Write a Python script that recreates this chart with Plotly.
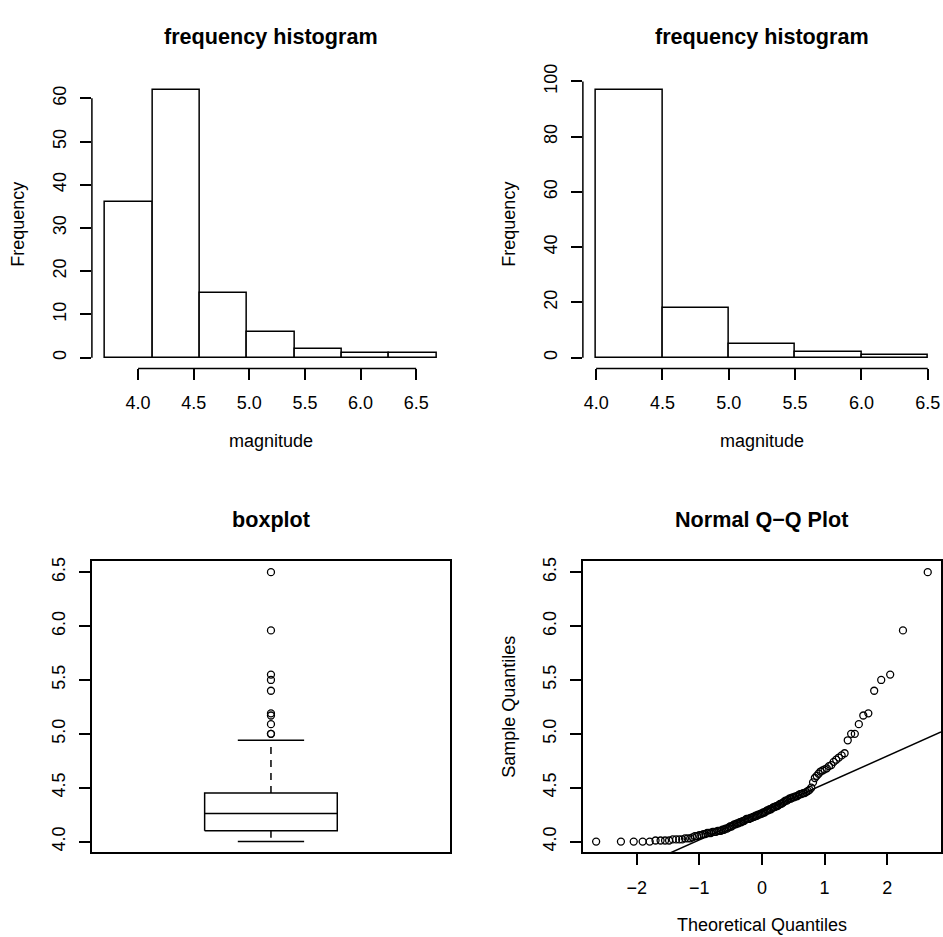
import plotly.graph_objects as go
import numpy as np
from statistics import NormalDist

# ---------------- data ----------------
magnitude = [
    4.00, 4.00, 4.00, 4.00, 4.00, 4.01, 4.01, 4.01, 4.01, 4.02,
    4.02, 4.02, 4.02, 4.03, 4.03, 4.03, 4.04, 4.05, 4.05, 4.06,
    4.06, 4.07, 4.07, 4.08, 4.08, 4.08, 4.09, 4.09, 4.09, 4.10,
    4.10, 4.10, 4.11, 4.11, 4.12, 4.12, 4.13, 4.14, 4.14, 4.15,
    4.16, 4.16, 4.17, 4.17, 4.18, 4.18, 4.19, 4.19, 4.20, 4.21,
    4.21, 4.21, 4.22, 4.22, 4.23, 4.23, 4.24, 4.24, 4.25, 4.25,
    4.26, 4.26, 4.27, 4.27, 4.28, 4.29, 4.29, 4.30, 4.30, 4.31,
    4.32, 4.32, 4.33, 4.33, 4.34, 4.35, 4.35, 4.36, 4.37, 4.38,
    4.38, 4.39, 4.40, 4.40, 4.41, 4.41, 4.42, 4.42, 4.43, 4.44,
    4.44, 4.45, 4.45, 4.46, 4.47, 4.48, 4.50, 4.55, 4.59, 4.61,
    4.63, 4.65, 4.66, 4.67, 4.68, 4.70, 4.71, 4.74, 4.76, 4.78,
    4.80, 4.82, 4.94, 5.00, 5.00, 5.09, 5.17, 5.19, 5.40, 5.50,
    5.55, 5.96, 6.50,
]

hist1_edges = [3.704, 4.130, 4.556, 4.982, 5.408, 5.834, 6.259, 6.685]
hist1_counts = [36, 62, 15, 6, 2, 1, 1]
hist1_xticks = [4.0, 4.5, 5.0, 5.5, 6.0, 6.5]
hist1_yticks = [0, 10, 20, 30, 40, 50, 60]

hist2_edges = [4.0, 4.5, 5.0, 5.5, 6.0, 6.5]
hist2_counts = [97, 18, 5, 2, 1]
hist2_xticks = [4.0, 4.5, 5.0, 5.5, 6.0, 6.5]
hist2_yticks = [0, 20, 40, 60, 80, 100]

box_yticks = [4.0, 4.5, 5.0, 5.5, 6.0, 6.5]
qq_xticks = [-2, -1, 0, 1, 2]
qq_xticklabels = ["\u22122", "\u22121", "0", "1", "2"]
qq_yticks = [4.0, 4.5, 5.0, 5.5, 6.0, 6.5]

titles = ["frequency histogram", "frequency histogram", "boxplot", "Normal Q\u2212Q Plot"]

# ---------------- layout constants ----------------
W, H = 943, 937
FONT = "Liberation Sans, Arial, Helvetica, sans-serif"
FS = 18
LW = 1.5
STANDOFF = 7
col_px = [(92, 450.5), (583.5, 942)]
row_px = [(65, 359.2), (555.3, 851)]


def xdom(c):
    return [col_px[c][0] / W, col_px[c][1] / W]


def ydom(r):
    return [1 - row_px[r][1] / H, 1 - row_px[r][0] / H]


def ext(lo, hi):
    d = (hi - lo) * 0.04
    return [lo - d, hi + d]


def fmt(v):
    return f"{v:.1f}"


mag = np.array(sorted(magnitude))
n = len(mag)

fig = go.Figure()

# ---------------- histograms ----------------
for k, (edges, counts) in enumerate([(hist1_edges, hist1_counts), (hist2_edges, hist2_counts)]):
    e = np.array(edges)
    centers = (e[:-1] + e[1:]) / 2
    widths = e[1:] - e[:-1]
    ax = "" if k == 0 else str(k + 1)
    fig.add_trace(go.Bar(
        x=centers, y=counts, width=widths,
        marker=dict(color="white", line=dict(color="black", width=LW)),
        xaxis="x" + ax, yaxis="y" + ax, showlegend=False, hoverinfo="skip",
    ))

# ---------------- boxplot (Tukey hinges like R) ----------------
n4 = np.floor((n + 3) / 2) / 2
d = np.array([1, n4, (n + 1) / 2, n + 1 - n4, n])
five = 0.5 * (mag[np.floor(d).astype(int) - 1] + mag[np.ceil(d).astype(int) - 1])
q1, med, q3 = five[1], five[2], five[3]
iqr = q3 - q1
up_w = mag[mag <= q3 + 1.5 * iqr].max()
lo_w = mag[mag >= q1 - 1.5 * iqr].min()
outliers = mag[(mag > up_w) | (mag < lo_w)]

bl = dict(color="black", width=LW)
fig.add_trace(go.Scatter(x=[0.8, 1.2, 1.2, 0.8, 0.8], y=[q1, q1, q3, q3, q1], mode="lines",
                         line=bl, xaxis="x3", yaxis="y3", showlegend=False, hoverinfo="skip"))
fig.add_trace(go.Scatter(x=[0.8, 1.2], y=[med, med], mode="lines",
                         line=bl, xaxis="x3", yaxis="y3",
                         showlegend=False, hoverinfo="skip"))
for a, b in [(q3, up_w), (q1, lo_w)]:
    fig.add_trace(go.Scatter(x=[1, 1], y=[a, b], mode="lines",
                             line=dict(color="black", width=LW, dash="7px,6px"),
                             xaxis="x3", yaxis="y3", showlegend=False, hoverinfo="skip"))
    fig.add_trace(go.Scatter(x=[0.9, 1.1], y=[b, b], mode="lines", line=bl,
                             xaxis="x3", yaxis="y3", showlegend=False, hoverinfo="skip"))
fig.add_trace(go.Scatter(x=[1] * len(outliers), y=outliers, mode="markers",
                         marker=dict(symbol="circle-open", size=7, color="black", line=dict(width=1.3)),
                         xaxis="x3", yaxis="y3", showlegend=False, hoverinfo="skip"))

# ---------------- normal Q-Q plot ----------------
nd = NormalDist()
theo = np.array([nd.inv_cdf((i - 0.5) / n) for i in range(1, n + 1)])
fig.add_trace(go.Scatter(x=theo, y=mag, mode="markers",
                         marker=dict(symbol="circle-open", size=7, color="black", line=dict(width=1.3)),
                         xaxis="x4", yaxis="y4", showlegend=False, hoverinfo="skip"))
yq = np.quantile(mag, [0.25, 0.75])
xq = np.array([nd.inv_cdf(0.25), nd.inv_cdf(0.75)])
slope = (yq[1] - yq[0]) / (xq[1] - xq[0])
icpt = yq[0] - slope * xq[0]
qx_range = ext(theo.min(), theo.max())
lx = np.array(qx_range)
fig.add_trace(go.Scatter(x=lx, y=icpt + slope * lx, mode="lines", line=dict(color="black", width=LW),
                         xaxis="x4", yaxis="y4", showlegend=False, hoverinfo="skip"))

# ---------------- axes ----------------
common = dict(showgrid=False, zeroline=False, ticks="outside", ticklen=10.8, tickwidth=LW,
              tickcolor="black", ticklabelstandoff=STANDOFF,
              tickfont=dict(family=FONT, size=FS, color="black"))
frame = dict(showline=True, mirror=True, linecolor="black", linewidth=LW)

h1x = ext(hist1_edges[0], hist1_edges[-1])
h1y = ext(0, max(hist1_counts))
h2x = ext(hist2_edges[0], hist2_edges[-1])
h2y = ext(0, max(hist2_counts))
by = ext(min(magnitude), max(magnitude))

fig.update_layout(
    xaxis=dict(domain=xdom(0), anchor="y", range=h1x, tickvals=hist1_xticks,
               ticktext=[fmt(v) for v in hist1_xticks], showline=False, **common),
    yaxis=dict(domain=ydom(0), anchor="x", range=h1y, tickvals=hist1_yticks,
               ticktext=[str(v) for v in hist1_yticks], tickangle=-90, showline=False, **common),
    xaxis2=dict(domain=xdom(1), anchor="y2", range=h2x, tickvals=hist2_xticks,
                ticktext=[fmt(v) for v in hist2_xticks], showline=False, **common),
    yaxis2=dict(domain=ydom(0), anchor="x2", range=h2y, tickvals=hist2_yticks,
                ticktext=[str(v) for v in hist2_yticks], tickangle=-90, showline=False, **common),
    xaxis3=dict(domain=xdom(0), anchor="y3", range=[0.46, 1.54], showticklabels=False,
                showgrid=False, zeroline=False, ticks="", **frame),
    yaxis3=dict(domain=ydom(1), anchor="x3", range=by, tickvals=box_yticks,
                ticktext=[fmt(v) for v in box_yticks], tickangle=-90, **common, **frame),
    xaxis4=dict(domain=xdom(1), anchor="y4", range=qx_range, tickvals=qq_xticks,
                ticktext=qq_xticklabels, **common, **frame),
    yaxis4=dict(domain=ydom(1), anchor="x4", range=by, tickvals=qq_yticks,
                ticktext=[fmt(v) for v in qq_yticks], tickangle=-90, **common, **frame),
)

# R-style axis lines spanning first to last tick (histograms)
shapes = []
for ax, xt, yt in [("", hist1_xticks, hist1_yticks), ("2", hist2_xticks, hist2_yticks)]:
    shapes.append(dict(type="line", xref="x" + ax, yref="y" + ax + " domain", x0=xt[0], x1=xt[-1],
                       y0=0, y1=0, line=dict(color="black", width=LW)))
    shapes.append(dict(type="line", xref="x" + ax + " domain", yref="y" + ax, x0=0, x1=0,
                       y0=yt[0], y1=yt[-1], line=dict(color="black", width=LW)))

# titles and axis labels
ann = []
title_off = 43
for i, t in enumerate(titles):
    c, r = i % 2, i // 2
    ann.append(dict(text="<b>" + t + "</b>", xref="paper", yref="paper",
                    x=(col_px[c][0] + col_px[c][1]) / 2 / W, y=1 - (row_px[r][0] - title_off) / H,
                    showarrow=False, xanchor="center", yanchor="middle",
                    font=dict(family=FONT, size=FS * 1.2, color="black")))

labels = [
    (0, 0, "magnitude", "Frequency"),
    (1, 0, "magnitude", "Frequency"),
    (1, 1, "Theoretical Quantiles", "Sample Quantiles"),
]
for c, r, xl, yl in labels:
    ann.append(dict(text=xl, xref="paper", yref="paper",
                    x=(col_px[c][0] + col_px[c][1]) / 2 / W, y=1 - (row_px[r][1] + 74) / H,
                    showarrow=False, xanchor="center", yanchor="middle",
                    font=dict(family=FONT, size=FS, color="black")))
    ann.append(dict(text=yl, xref="paper", yref="paper", textangle=-90,
                    x=(col_px[c][0] - 74) / W, y=1 - (row_px[r][0] + row_px[r][1]) / 2 / H,
                    showarrow=False, xanchor="center", yanchor="middle",
                    font=dict(family=FONT, size=FS, color="black")))

fig.update_layout(
    width=W, height=H, margin=dict(l=0, r=0, t=0, b=0),
    paper_bgcolor="white", plot_bgcolor="white",
    shapes=shapes, annotations=ann, showlegend=False, bargap=0,
    font=dict(family=FONT, size=FS, color="black"),
)

fig.write_html("out.html", config={"displayModeBar": False},
               post_script="document.body.style.margin='0';document.body.style.overflow='hidden';")
